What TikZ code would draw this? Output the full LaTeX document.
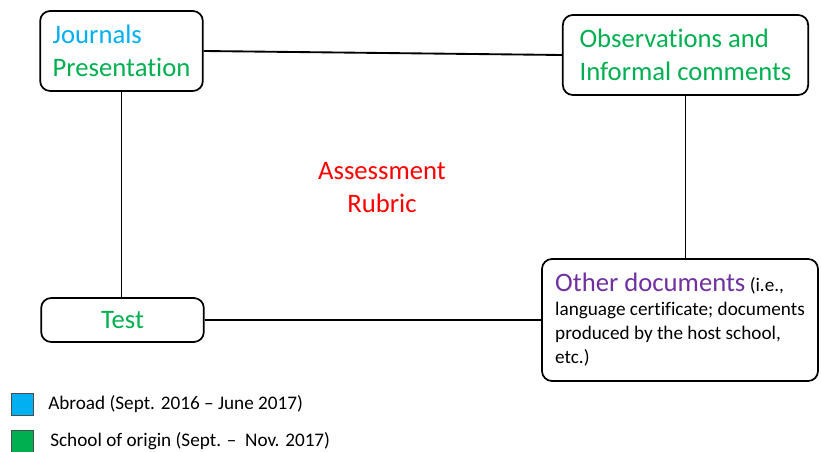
\documentclass[tikz,border=0pt]{standalone}
\usepackage{fontspec}
\setmainfont{Carlito}[Ligatures=NoCommon]
\usepackage{tikz}
\usetikzlibrary{positioning}
\usetikzlibrary{calc}
\definecolor{abroadblue}{RGB}{0,176,240}
\definecolor{origingreen}{RGB}{0,176,80}
\definecolor{docpurple}{RGB}{112,48,160}
\definecolor{rubricred}{RGB}{255,0,0}
\tikzset{basic box/.style={draw,
                           line width=1.3pt,
                           rounded corners=7.5pt,
                           inner xsep=9pt,
                           align=left}}
\tikzset{big text/.style={font=\fontsize{20}{24.75}\selectfont}}
\tikzset{edge/.style={draw,
                      line width=1.4pt}}
\newcommand{\BIGTXT}{\fontsize{20}{24.75}\selectfont}

\begin{document}
\begin{tikzpicture}
  [
    x=0.75pt,y=-0.75pt,
    legend box/.style={draw=black!70,
                       line width=0.5pt,
                       minimum size=16.5pt,
                       inner sep=0pt},
    legend text/.style={font=\fontsize{14.4}{16}\selectfont,
                        anchor=west,
                        inner sep=0pt},
  ]
    \useasboundingbox (0,0) rectangle (821,452);

    % boxes
    \node [basic box, big text, minimum width=122pt, minimum height=60pt]
      (journals) at (121.5,51)
      {\textcolor{abroadblue}{Journals}\\\textcolor{origingreen}{Presentation}};
    \node [basic box, big text, minimum width=184pt, minimum height=60pt,
           text=origingreen]
      (observ) at (685.5,55)
      {Observations and\\Informal comments};
    \node [basic box, big text, minimum width=122pt, minimum height=33pt,
           text=origingreen]
      (test) at (122.5,320)
      {Test};
    \node [basic box, minimum width=207pt, minimum height=91.5pt,
           font=\fontsize{14.4}{18}\selectfont]
      (otherdocs) at (680,320)
      {{\BIGTXT\textcolor{docpurple}{Other documents}} (i.e.,\\
       language certificate; documents\\
       produced by the host school,\\
       etc.)};

    % centre label
    \node [big text, text=rubricred, align=center] (rubric) at (382,188)
      {Assessment\\Rubric};

    % edges
    \path [edge] (journals.east) -- (observ.west);
    \path [edge] (journals.south) -- (journals.south |- test.north);
    \path [edge] (observ.south) -- (observ.south |- otherdocs.north);
    \path [edge] (test.east) -- (test.east -| otherdocs.west);

    % legend
    \node [legend box, fill=abroadblue] (keyabroad) at (22,404) {};
    \node [legend box, fill=origingreen] (keyorigin) at (22,441) {};
    \node [legend text, right=11pt of keyabroad.east, anchor=west] (txtabroad)
      {Abroad (Sept. 2016 -- June 2017)};
    \node [legend text, right=12.5pt of keyorigin.east, anchor=west] (txtorigin)
      {School of origin (Sept. --\ \ Nov. 2017)};

  \end{tikzpicture}
\end{document}
